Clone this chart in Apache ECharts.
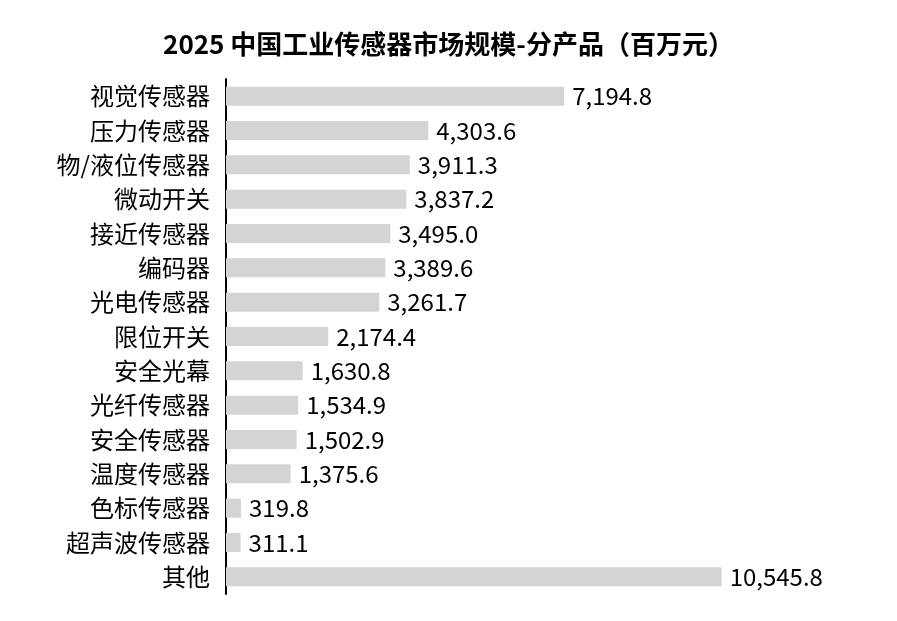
<!DOCTYPE html>
<html>
<head>
<meta charset="utf-8">
<script src="https://cdn.jsdelivr.net/npm/echarts@6/dist/echarts.min.js"></script>
<style>
  html, body { margin: 0; padding: 0; background: #fff; }
  #main { width: 897px; height: 621px; }
</style>
</head>
<body>
<div id="main"></div>
<script>
var titleText = '2025 中国工业传感器市场规模-分产品（百万元）';

var categories = ['视觉传感器', '压力传感器', '物/液位传感器', '微动开关', '接近传感器', '编码器',
  '光电传感器', '限位开关', '安全光幕', '光纤传感器', '安全传感器', '温度传感器',
  '色标传感器', '超声波传感器', '其他'];

var values = [7194.8, 4303.6, 3911.3, 3837.2, 3495.0, 3389.6, 3261.7, 2174.4,
  1630.8, 1534.9, 1502.9, 1375.6, 319.8, 311.1, 10545.8];

var fontCJK = '"Noto Sans CJK SC", "Noto Sans", sans-serif';

function fmt(v) {
  return v.toFixed(1).replace(/\B(?=(\d{3})+(?!\d))/g, ',');
}

var chartDom = document.getElementById('main');
var myChart = echarts.init(chartDom);
var option = {
  backgroundColor: '#fff',
  animation: false,
  title: {
    text: titleText,
    left: 'center',
    top: 26,
    textStyle: { fontFamily: fontCJK, fontSize: 26, fontWeight: 'bold', color: '#000' }
  },
  grid: { left: 226, right: 13, top: 79, bottom: 27 },
  xAxis: {
    type: 'value',
    min: 0,
    max: 14000,
    show: false
  },
  yAxis: {
    type: 'category',
    data: categories,
    inverse: true,
    axisLine: { show: true, lineStyle: { color: '#000', width: 2 } },
    axisTick: { show: false },
    axisLabel: {
      fontFamily: fontCJK,
      fontSize: 24,
      color: '#000',
      margin: 16
    }
  },
  series: [
    {
      type: 'bar',
      data: values,
      barWidth: 19,
      itemStyle: { color: '#d4d4d6' },
      label: {
        show: true,
        position: 'right',
        distance: 8,
        fontFamily: fontCJK,
        fontSize: 24,
        color: '#000',
        formatter: function (p) { return fmt(p.value); }
      }
    }
  ]
};
option && myChart.setOption(option);
</script>
</body>
</html>
